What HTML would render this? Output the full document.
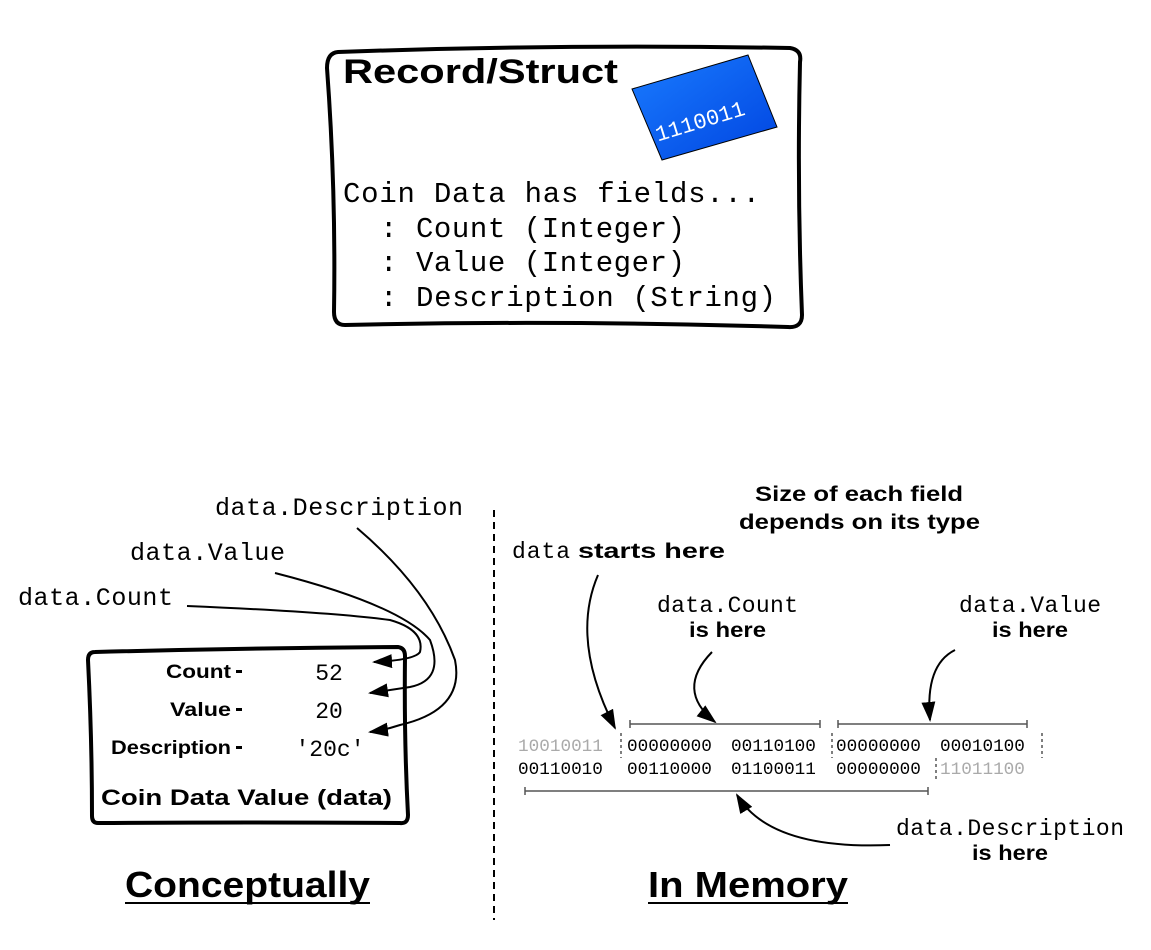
<!DOCTYPE html>
<html><head><meta charset="utf-8"><style>
html,body{margin:0;padding:0;background:#fff;}
svg{display:block;}
.m{font-family:"Liberation Mono",monospace;}
.h{font-family:"Liberation Sans",sans-serif;font-weight:bold;}
</style></head><body>
<svg width="1151" height="950" viewBox="0 0 1151 950" xmlns="http://www.w3.org/2000/svg">
<defs>
<marker id="ar" viewBox="0 0 10 10" refX="9" refY="5" markerWidth="10" markerHeight="7" orient="auto" markerUnits="strokeWidth" preserveAspectRatio="none">
<path d="M0,0 L10,5 L0,10 z" fill="#000"/></marker>
<linearGradient id="bl" x1="0" y1="0" x2="1" y2="1"><stop offset="0" stop-color="#1a7cff"/><stop offset="1" stop-color="#0044e0"/></linearGradient>
</defs>
<!-- top box -->
<path d="M338,52 Q560,44 790,48 Q802,50 800,62 Q797,190 802,315 Q802,328 788,327 Q560,320 345,325 Q334,325 334,312 Q336,190 327,68 Q327,53 338,52 Z" fill="none" stroke="#000" stroke-width="4"/>
<text x="343" y="83" class="h" font-size="34" textLength="275" lengthAdjust="spacingAndGlyphs">Record/Struct</text>
<g>
<polygon points="632,89 748,55 777,127 662,160" fill="url(#bl)" stroke="#000" stroke-width="1"/>
<text x="652" y="128" font-family="Liberation Mono,monospace" font-size="22" fill="#fff" transform="rotate(-17 700 115)">1110011</text>
</g>
<g class="m" font-size="29" fill="#000">
<text x="343" y="202" textLength="417">Coin Data has fields...</text>
<text x="380" y="237" textLength="305">: Count (Integer)</text>
<text x="380" y="271" textLength="305">: Value (Integer)</text>
<text x="380" y="306" textLength="396">: Description (String)</text>
</g>
<!-- bottom left box -->
<path d="M95,652 Q250,648 398,647 Q405,648 405,656 Q404,740 408,815 Q408,824 400,823 Q250,822 98,823 Q92,823 92,816 Q92,740 88,660 Q88,652 95,652 Z" fill="none" stroke="#000" stroke-width="4"/>
<g class="h" font-size="19">
<text x="166" y="678" textLength="65" lengthAdjust="spacingAndGlyphs">Count</text>
<text x="170" y="716" textLength="61" lengthAdjust="spacingAndGlyphs">Value</text>
<text x="111" y="754" textLength="120" lengthAdjust="spacingAndGlyphs">Description</text>
</g>
<g fill="#000"><rect x="236" y="670" width="6" height="3"/><rect x="236" y="708" width="6" height="3"/><rect x="236" y="746" width="6" height="3"/></g>
<g class="m" font-size="23" text-anchor="middle">
<text x="329" y="680">52</text><text x="329" y="718">20</text><text x="330" y="756">'20c'</text>
</g>
<text x="101" y="805" class="h" font-size="22" textLength="291" lengthAdjust="spacingAndGlyphs">Coin Data Value (data)</text>
<g class="m" font-size="25">
<text x="215" y="515" textLength="248">data.Description</text>
<text x="130" y="560" textLength="155">data.Value</text>
<text x="18" y="605" textLength="155">data.Count</text>
</g>
<g fill="none" stroke="#000" stroke-width="2" marker-end="url(#ar)">
<path d="M187,606 Q330,612 390,620 Q425,630 420,652 Q415,660 374,662"/>
<path d="M275,573 Q400,605 430,640 Q445,680 410,687 Q390,690 370,693"/>
<path d="M357,528 Q430,590 455,660 Q465,710 400,725 Q385,730 370,732"/>
</g>
<line x1="494" y1="510" x2="494" y2="920" stroke="#000" stroke-width="2" stroke-dasharray="7,5"/>
<text x="125" y="897" class="h" font-size="36" textLength="245" lengthAdjust="spacingAndGlyphs">Conceptually</text>
<line x1="125" y1="903" x2="370" y2="903" stroke="#000" stroke-width="2"/>
<text x="648" y="897" class="h" font-size="36" textLength="200" lengthAdjust="spacingAndGlyphs">In Memory</text>
<line x1="648" y1="903" x2="848" y2="903" stroke="#000" stroke-width="2"/>
<!-- right -->
<g class="h" font-size="21">
<text x="755" y="501" textLength="208" lengthAdjust="spacingAndGlyphs">Size of each field</text>
<text x="739" y="529" textLength="241" lengthAdjust="spacingAndGlyphs">depends on its type</text>
<text x="689" y="637" textLength="77" lengthAdjust="spacingAndGlyphs">is here</text>
<text x="992" y="637" textLength="76" lengthAdjust="spacingAndGlyphs">is here</text>
<text x="972" y="860" textLength="76" lengthAdjust="spacingAndGlyphs">is here</text>
<text x="578" y="558" textLength="147" lengthAdjust="spacingAndGlyphs">starts here</text>
</g>
<text x="512" y="558" class="m" font-size="23" textLength="58">data</text>
<g class="m" font-size="23">
<text x="657" y="612" textLength="141">data.Count</text>
<text x="959" y="612" textLength="142">data.Value</text>
<text x="896" y="835" textLength="228">data.Description</text>
</g>
<g class="m" font-size="17.7" fill="#000">
<text x="518" y="751" fill="#aaa">10010011</text>
<text x="627" y="751">00000000</text>
<text x="731" y="751">00110100</text>
<text x="836" y="751">00000000</text>
<text x="940" y="751">00010100</text>
<text x="518" y="774">00110010</text>
<text x="627" y="774">00110000</text>
<text x="731" y="774">01100011</text>
<text x="836" y="774">00000000</text>
<text x="940" y="774" fill="#aaa">11011100</text>
</g>
<g stroke="#555" stroke-width="1.5">
<line x1="621" y1="733" x2="621" y2="758" stroke-dasharray="3,3"/>
<line x1="832" y1="733" x2="832" y2="758" stroke-dasharray="3,3"/>
<line x1="1042" y1="733" x2="1042" y2="758" stroke-dasharray="3,3"/>
<line x1="936" y1="758" x2="936" y2="780" stroke-dasharray="3,3"/>
<line x1="630" y1="724" x2="820" y2="724"/><line x1="630" y1="720" x2="630" y2="728"/><line x1="820" y1="720" x2="820" y2="728"/>
<line x1="838" y1="724" x2="1027" y2="724"/><line x1="838" y1="720" x2="838" y2="728"/><line x1="1027" y1="720" x2="1027" y2="728"/>
<line x1="525" y1="791" x2="928" y2="791"/><line x1="525" y1="787" x2="525" y2="795"/><line x1="928" y1="787" x2="928" y2="795"/>
</g>
<g fill="none" stroke="#000" stroke-width="2" marker-end="url(#ar)">
<path d="M598,575 Q570,640 615,728"/>
<path d="M712,652 Q675,690 715,722"/>
<path d="M955,650 Q925,665 930,720"/>
<path d="M890,845 Q770,850 737,795"/>
</g>
</svg>
</body></html>
